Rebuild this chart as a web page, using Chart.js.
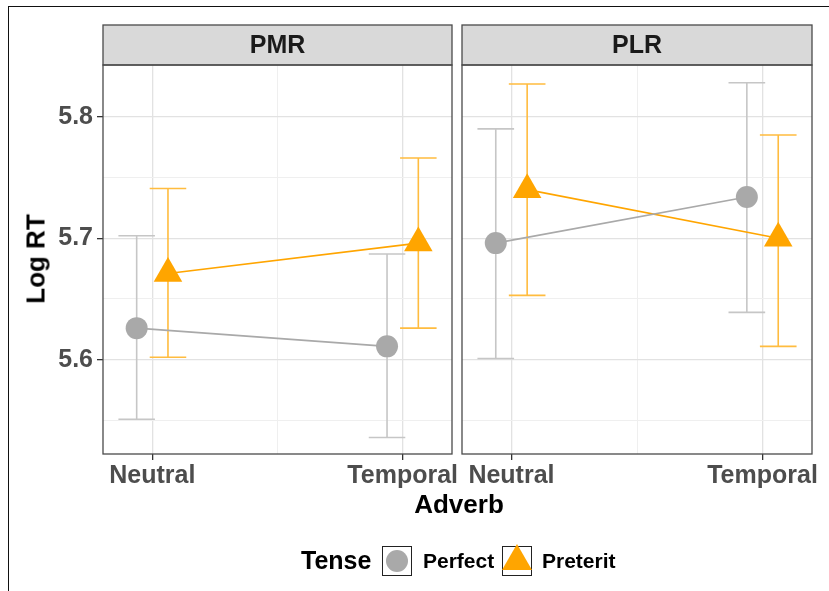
<!DOCTYPE html>
<html>
<head>
<meta charset="utf-8">
<script src="https://cdn.jsdelivr.net/npm/chart.js@4"></script>
<style>
  body { margin: 0; background: #fff; }
  #wrap { position: relative; width: 829px; height: 591px; overflow: hidden; font-family: 'Liberation Sans', Arial, sans-serif; }
  canvas { position: absolute; left: 0; top: 0; }
  .frame { position: absolute; left: 8px; top: 6px; width: 900px; height: 700px; border-top: 1.5px solid #111; border-left: 1.5px solid #111; }
  .lbl { position: absolute; font-weight: bold; color: #000; white-space: nowrap; }
  .key { position: absolute; top: 546px; width: 28px; height: 28px; border: 1.5px solid #222; }
</style>
</head>
<body>
<div id="wrap">
  <div class="frame"></div>
  <canvas id="pmr" width="829" height="591"></canvas>
  <canvas id="plr" width="829" height="591"></canvas>
  <div class="lbl" style="left:36px;top:259px;font-size:26px;transform:translate(-50%,-50%) rotate(-90deg);">Log RT</div>
  <div class="lbl" style="left:459px;top:504px;font-size:26px;transform:translate(-50%,-50%);">Adverb</div>
  <div class="lbl" style="left:301px;top:545px;font-size:25px;line-height:30px;">Tense</div>
  <div class="key" style="left:382px;">
    <div style="position:absolute;left:3px;top:3px;width:22px;height:22px;border-radius:50%;background:#a9a9a9;"></div>
  </div>
  <div class="lbl" style="left:423px;top:546px;font-size:21px;line-height:30px;">Perfect</div>
  <div class="key" style="left:502px;">
    <div style="position:absolute;left:-1px;top:-3px;width:0;height:0;border-left:15px solid transparent;border-right:15px solid transparent;border-bottom:26px solid #ffa500;"></div>
  </div>
  <div class="lbl" style="left:542px;top:546px;font-size:21px;line-height:30px;">Preterit</div>
</div>
<script>
// facets, categories, legend series
const panels = ['PMR', 'PLR'];
const categories = ['Neutral', 'Temporal'];
const series = ['Perfect', 'Preterit'];

// y ticks (minor ones carry no label)
const yTicks = [5.55, 5.6, 5.65, 5.7, 5.75, 5.8];
const yLabels = ['', '5.6', '', '5.7', '', '5.8'];

// PMR means and error bar ends
const pmrPerfect = [5.626, 5.611];
const pmrPerfectLo = [5.551, 5.536];
const pmrPerfectHi = [5.702, 5.687];
const pmrPreterit = [5.671, 5.696];
const pmrPreteritLo = [5.602, 5.626];
const pmrPreteritHi = [5.741, 5.766];

// PLR means and error bar ends
const plrPerfect = [5.696, 5.734];
const plrPerfectLo = [5.601, 5.639];
const plrPerfectHi = [5.790, 5.828];
const plrPreterit = [5.740, 5.700];
const plrPreteritLo = [5.653, 5.611];
const plrPreteritHi = [5.827, 5.785];

const dodge = 0.0625;   // position_dodge
const capHalf = 0.073;  // errorbar width / 2
const greyPt = '#a9a9a9', greyBar = '#c6c6c6';
const orangePt = '#ffa500', orangeBar = '#ffbc3f';

Chart.defaults.font.family = "'Liberation Sans', Arial, sans-serif";

function pts(vals, off) {
  return vals.map((v, i) => ({ x: i + 1 + off, y: v }));
}

// error bars, drawn under the lines and points
const errorBars = {
  id: 'errorBars',
  beforeDatasetsDraw(chart) {
    const ctx = chart.ctx, xs = chart.scales.x, ys = chart.scales.y;
    chart.data.datasets.forEach(ds => {
      ctx.save();
      ctx.strokeStyle = ds.barColor;
      ctx.lineWidth = 1.6;
      ds.data.forEach((p, i) => {
        const x = xs.getPixelForValue(p.x);
        const x0 = xs.getPixelForValue(p.x - capHalf), x1 = xs.getPixelForValue(p.x + capHalf);
        const yl = ys.getPixelForValue(ds.lo[i]), yh = ys.getPixelForValue(ds.hi[i]);
        ctx.beginPath();
        ctx.moveTo(x, yl); ctx.lineTo(x, yh);
        ctx.moveTo(x0, yl); ctx.lineTo(x1, yl);
        ctx.moveTo(x0, yh); ctx.lineTo(x1, yh);
        ctx.stroke();
      });
      ctx.restore();
    });
  }
};

// facet strip + panel border
const facet = {
  id: 'facet',
  afterDraw(chart, args, opts) {
    const { ctx, chartArea: a } = chart;
    ctx.save();
    ctx.fillStyle = '#d9d9d9';
    ctx.fillRect(a.left, 25, a.right - a.left, a.top - 25);
    ctx.strokeStyle = '#4a4a4a';
    ctx.lineWidth = 1.3;
    ctx.strokeRect(a.left, 25, a.right - a.left, a.top - 25);
    ctx.strokeRect(a.left, a.top, a.right - a.left, a.bottom - a.top);
    ctx.fillStyle = '#1a1a1a';
    ctx.font = "bold 25px 'Liberation Sans', Arial, sans-serif";
    ctx.textAlign = 'center';
    ctx.textBaseline = 'middle';
    ctx.fillText(opts.label, (a.left + a.right) / 2, (25 + a.top) / 2 + 1);
    ctx.restore();
  }
};

function fixSize(prop, size) {
  return s => {
    s[prop] = size;
    s.paddingLeft = s.paddingRight = s.paddingTop = s.paddingBottom = 0;
  };
}

function makePanel(id, name, perf, perfLo, perfHi, pret, pretLo, pretHi, first) {
  return new Chart(document.getElementById(id), {
    type: 'line',
    data: {
      datasets: [{
        label: series[0],
        data: pts(perf, -dodge),
        lo: perfLo, hi: perfHi, barColor: greyBar,
        borderColor: greyPt, backgroundColor: greyPt,
        borderWidth: 1.6, pointRadius: 11, pointBorderWidth: 0,
        pointStyle: 'circle'
      }, {
        label: series[1],
        data: pts(pret, dodge),
        lo: pretLo, hi: pretHi, barColor: orangeBar,
        borderColor: orangePt, backgroundColor: orangePt,
        borderWidth: 1.6, pointRadius: 16.5, pointBorderWidth: 0,
        pointStyle: 'triangle'
      }]
    },
    options: {
      responsive: false,
      animation: false,
      layout: { padding: first ? { left: 0, right: 377, top: 65, bottom: 97 } : { left: 462, right: 17, top: 65, bottom: 97 } },
      plugins: { legend: { display: false }, tooltip: { enabled: false }, facet: { label: name } },
      scales: {
        x: {
          type: 'linear', min: 0.803, max: 2.197,
          afterBuildTicks: s => { s.ticks = [1, 1.5, 2].map(v => ({ value: v })); },
          afterFit: fixSize('height', 40),
          border: { display: false },
          grid: {
            color: c => c.tick && c.tick.value === 1.5 ? '#efefef' : '#e2e2e2',
            lineWidth: c => c.tick && c.tick.value === 1.5 ? 1 : 1.3,
            tickColor: c => c.tick && c.tick.value === 1.5 ? 'rgba(0,0,0,0)' : '#333',
            tickLength: 6
          },
          ticks: {
            autoSkip: false, maxRotation: 0, padding: 1,
            color: '#4d4d4d', font: { size: 25, weight: 'bold' },
            callback: v => Number.isInteger(v) ? categories[v - 1] : ''
          }
        },
        y: {
          min: 5.5224, max: 5.8426,
          afterBuildTicks: s => { s.ticks = yTicks.map(v => ({ value: v })); },
          afterFit: fixSize('width', first ? 103 : 0),
          border: { display: false },
          grid: {
            color: c => c.tick && yLabels[yTicks.indexOf(c.tick.value)] === '' ? '#efefef' : '#e2e2e2',
            lineWidth: c => c.tick && yLabels[yTicks.indexOf(c.tick.value)] === '' ? 1 : 1.3,
            tickColor: c => c.tick && yLabels[yTicks.indexOf(c.tick.value)] !== '' ? '#333' : 'rgba(0,0,0,0)',
            drawTicks: first, tickLength: 6
          },
          ticks: {
            display: first, autoSkip: false, padding: 4,
            color: '#4d4d4d', font: { size: 25, weight: 'bold' },
            callback: (v, i) => yLabels[i]
          }
        }
      }
    },
    plugins: [errorBars, facet]
  });
}

makePanel('pmr', panels[0], pmrPerfect, pmrPerfectLo, pmrPerfectHi, pmrPreterit, pmrPreteritLo, pmrPreteritHi, true);
makePanel('plr', panels[1], plrPerfect, plrPerfectLo, plrPerfectHi, plrPreterit, plrPreteritLo, plrPreteritHi, false);
</script>
</body>
</html>
